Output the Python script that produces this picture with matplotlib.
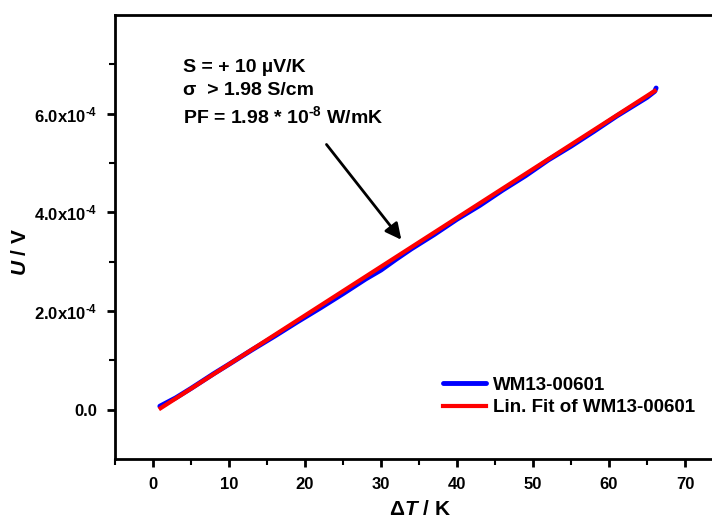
import matplotlib.pyplot as plt
import numpy as np
from matplotlib.ticker import MultipleLocator, FixedLocator

plt.rcParams['font.family'] = ['Liberation Sans', 'DejaVu Sans']
plt.rcParams['font.weight'] = 'bold'
plt.rcParams['mathtext.fontset'] = 'custom'
plt.rcParams['mathtext.rm'] = 'Liberation Sans:bold'
plt.rcParams['mathtext.it'] = 'Liberation Sans:bold:italic'

# measured data (delta T in K, U in V)
delta_t = [0.9, 3.0, 5.0, 8.0, 10.0, 13.0, 16.0, 19.0, 22.0, 25.0, 28.0, 30.0,
           32.0, 34.0, 37.0, 40.0, 43.0, 46.0, 49.0, 52.0, 55.0, 58.0, 61.0,
           63.0, 65.0, 66.0, 66.2]
voltage = [0.07e-4, 0.24e-4, 0.43e-4, 0.73e-4, 0.92e-4, 1.21e-4, 1.49e-4,
           1.78e-4, 2.06e-4, 2.35e-4, 2.65e-4, 2.83e-4, 3.05e-4, 3.26e-4,
           3.55e-4, 3.86e-4, 4.14e-4, 4.45e-4, 4.74e-4, 5.06e-4, 5.34e-4,
           5.64e-4, 5.95e-4, 6.14e-4, 6.33e-4, 6.45e-4, 6.52e-4]

# linear fit endpoints
fit_t = [1.0, 66.0]
fit_u = [0.03e-4, 6.46e-4]

y_ticks = [0, 2e-4, 4e-4, 6e-4]
y_labels = ["0.0", r"2.0x10$^{\text{-4}}$", r"4.0x10$^{\text{-4}}$",
            r"6.0x10$^{\text{-4}}$"]

fig = plt.figure(figsize=(7.12, 5.2), dpi=100)
ax = fig.add_axes([115 / 712, 61 / 520, 608 / 712, 444 / 520])

ax.plot(delta_t, voltage, color="#0000ff", lw=3.5, label="WM13-00601",
        solid_capstyle="round")
ax.plot(fit_t, fit_u, color="#ff0000", lw=3, label="Lin. Fit of WM13-00601")

ax.set_xlim(-5, 75)
ax.set_ylim(-1e-4, 8e-4)

ax.set_xticks(range(0, 71, 10))
ax.xaxis.set_minor_locator(MultipleLocator(5))
ax.set_yticks(y_ticks)
ax.set_yticklabels(y_labels)
ax.yaxis.set_minor_locator(FixedLocator([1e-4, 3e-4, 5e-4, 7e-4]))

for s in ax.spines.values():
    s.set_linewidth(2)
ax.spines["right"].set_visible(False)
ax.tick_params(which="major", direction="out", length=6, width=2,
               labelsize=12, pad=7)
ax.tick_params(which="minor", direction="out", length=4, width=1.5)

ax.set_xlabel(r"$\mathit{ΔT}$ / K", fontsize=15, fontweight="bold")
ax.xaxis.set_label_coords(0.502, -0.092)
ax.set_ylabel(r"$\mathit{U}$ / V", fontsize=15, fontweight="bold")
ax.yaxis.set_label_coords(-0.14, 0.466)

ax.text(3.9, 7.1e-4, "S = + 10 µV/K\nσ  > 1.98 S/cm", fontsize=14,
        fontweight="bold", va="top", linespacing=1.45)
ax.text(3.9, 5.95e-4, r"PF = 1.98 * 10$^{\text{-8}}$ W/mK",
        fontsize=14, fontweight="bold", va="center")

ax.annotate("", xy=(32.9, 3.4e-4), xytext=(22.6, 5.42e-4),
            arrowprops=dict(arrowstyle="-|>", color="black", lw=2,
                            mutation_scale=24))

ax.legend(loc="upper left", bbox_to_anchor=(0.54, 0.186), frameon=False,
          fontsize=13.5, handlelength=2.3, handletextpad=0.35,
          labelspacing=0.3, borderpad=0, borderaxespad=0)

fig.savefig("out.png", dpi=100)
